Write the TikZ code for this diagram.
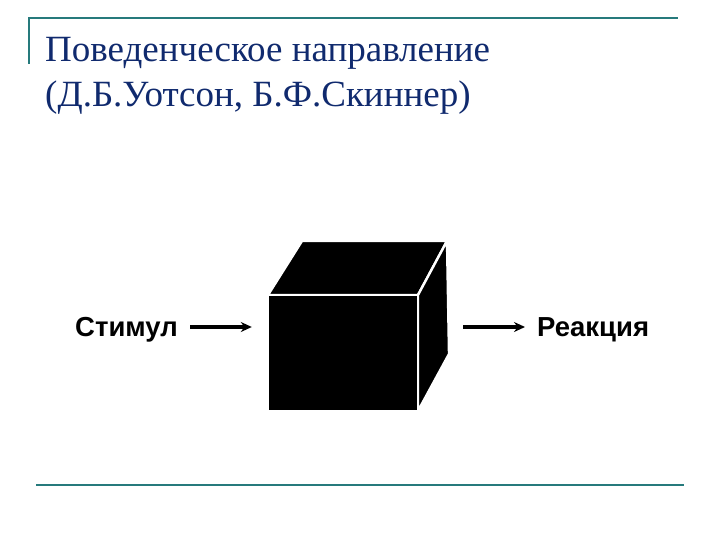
\documentclass[tikz,border=0pt]{standalone}
\usepackage{fontspec}
\setmainfont{Liberation Serif}
\newfontfamily\labelfont{Liberation Sans}
\usetikzlibrary{arrows.meta, positioning}
\definecolor{rule}{RGB}{38,122,124}
\definecolor{titleblue}{RGB}{16,42,110}
\tikzset{
    titletext/.style = {anchor=base west, inner sep=0pt, text=titleblue, font=\fontsize{37}{44}\selectfont},
    flowlabel/.style = {inner sep=0pt, font=\labelfont\bfseries\fontsize{27.5}{32}\selectfont},
    flowarrow/.style = {line width=3.6pt, -{Stealth[length=11pt, width=10pt]}},
    face/.style = {fill=black, draw=white, line width=2.4pt, line join=round}
}

\begin{document}
\begin{tikzpicture}[x=1pt, y=-1pt]
        \useasboundingbox (0, 0) rectangle (720, 540);
        % frame lines of the slide
        \draw[rule, line width=2.4pt] (29, 64) -- (29, 18) -- (678, 18);
        \draw[rule, line width=2.4pt] (36, 485) -- (684, 485);
        % title
        \node[titletext] (title1) at (45, 62) {Поведенческое направление};
        \node[titletext] (title2) at (45, 107) {(Д.Б.Уотсон, Б.Ф.Скиннер)};
        % black box: top face, right face, then front face
        \filldraw[face] (268, 295) -- (302, 241) -- (447, 241) -- (418, 295) -- cycle;
        \filldraw[face] (418, 295) -- (447, 241) -- (449, 354) -- (418, 411) -- cycle;
        \node[face, minimum width=150pt, minimum height=116pt, inner sep=0pt] (box) at (343, 353) {};
        % input and output
        \node[flowlabel, anchor=base east] (stimul) at (178, 336) {Стимул};
        \node[flowlabel, anchor=base west] (reaction) at (537, 336) {Реакция};
        \coordinate (stimulend) at (178, 327);
        \coordinate (reactionstart) at (537, 327);
        \draw[flowarrow, shorten <=12pt, shorten >=15pt] (stimulend) -- (stimulend -| box.west);
        \draw[flowarrow, shorten <=44pt, shorten >=12pt] (reactionstart -| box.east) -- (reactionstart);
\end{tikzpicture}
\end{document}
